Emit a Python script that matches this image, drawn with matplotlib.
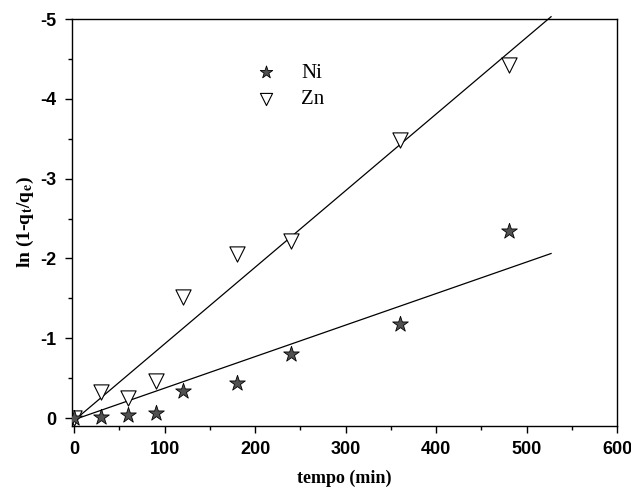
import numpy as np
import matplotlib
matplotlib.use("Agg")
import matplotlib.pyplot as plt
from matplotlib.ticker import MultipleLocator

plt.rcParams['mathtext.fontset'] = 'stix'
plt.rcParams['axes.unicode_minus'] = False

# data
tempo = [0, 30, 60, 90, 120, 180, 240, 360, 480]
ni = [0.0, -0.01, -0.04, -0.06, -0.34, -0.44, -0.80, -1.18, -2.34]
zn = [0.0, -0.33, -0.25, -0.46, -1.52, -2.06, -2.22, -3.49, -4.42]

# fitted lines (slope, intercept, end of line)
ni_fit = (-0.00395, 0.02, 527)
zn_fit = (-0.0096, 0.03, 527)

fig = plt.figure(figsize=(6.31, 4.88), dpi=100)
ax = fig.add_axes([0.114, 0.127, 0.864, 0.834])

for s, b, xe in [ni_fit, zn_fit]:
	xx = np.array([0, xe])
	ax.plot(xx, s*xx + b, color='black', lw=0.9, zorder=1, clip_on=False)

ax.scatter(tempo, ni, marker='*', s=140, facecolor='#505050', edgecolor='black', lw=0.6, label='Ni', zorder=3)
ax.scatter(tempo, zn, marker='v', s=120, facecolor='white', edgecolor='black', lw=0.8, label='Zn', zorder=2)

ax.set_xlim(-2.5, 600)
ax.set_ylim(0.1, -5)
ax.xaxis.set_major_locator(MultipleLocator(100))
ax.xaxis.set_minor_locator(MultipleLocator(50))
ax.yaxis.set_major_locator(MultipleLocator(1))
ax.yaxis.set_minor_locator(MultipleLocator(0.5))
ax.tick_params(which='major', direction='out', length=5, width=1, labelsize=13, pad=6)
ax.tick_params(which='minor', direction='out', length=3, width=1)
for lab in ax.get_xticklabels() + ax.get_yticklabels():
	lab.set_fontweight('bold')
	lab.set_family('Liberation Sans')
for sp in ax.spines.values():
	sp.set_linewidth(1)

ax.set_xlabel('tempo (min)', family='Liberation Serif', fontweight='bold', fontsize=13, labelpad=8)
ax.set_ylabel(r'ln (1-q$_\mathbf{t}$/q$_\mathbf{e}$)', family='Liberation Serif', fontweight='bold', fontsize=14, labelpad=3)

ax.legend(loc='center left', bbox_to_anchor=(0.283, 0.835), frameon=False, markerscale=0.8,
	prop={'family': 'Liberation Serif', 'size': 15}, handletextpad=0.7, labelspacing=0.35, scatterpoints=1)

fig.savefig('out.png', dpi=100)
